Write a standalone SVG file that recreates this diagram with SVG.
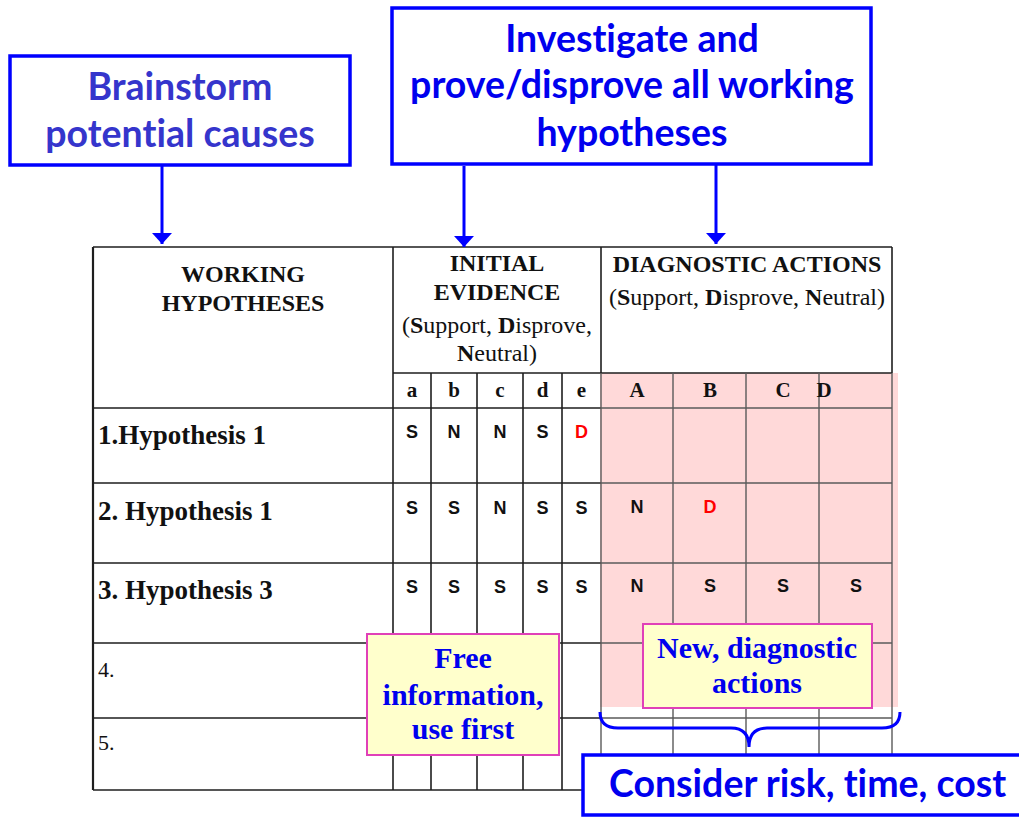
<svg xmlns="http://www.w3.org/2000/svg" width="1019" height="817" viewBox="0 0 1019 817">
  <defs>
    <marker id="arrowhead" viewBox="0 0 11 20" refX="11" refY="10" markerWidth="11" markerHeight="20" markerUnits="userSpaceOnUse" orient="auto">
      <path d="M0,0 L11,10 L0,20 Z" fill="#0000ff"/>
    </marker>
    <style>
      .callout { fill: #ffffff; stroke: #0000ff; stroke-width: 3.5; }
      .sans { font-family: Lato, "Open Sans", sans-serif; font-weight: bold; font-size: 37.5px; font-variant-ligatures: none; }
      .note { fill: #ffffcc; stroke: #e040b8; stroke-width: 2; }
      .note-text { font-family: "Liberation Serif", serif; font-weight: bold; font-size: 30px; fill: #0000ee; text-anchor: middle; }
      .grid { stroke: #1e1e1e; stroke-width: 1.6; fill: none; }
      .grid-soft { stroke: #5a5a5a; stroke-width: 1.4; fill: none; }
      .hdr { font-family: "Liberation Serif", serif; font-size: 24px; fill: #111; text-anchor: middle; }
      .sub { font-family: "Liberation Serif", serif; font-weight: bold; font-size: 21px; fill: #111; text-anchor: middle; }
      .row { font-family: "Liberation Serif", serif; font-weight: bold; font-size: 27px; fill: #111; }
      .row-plain { font-family: "Liberation Serif", serif; font-size: 22px; fill: #111; }
      .cell { font-family: "Liberation Sans", Arial, sans-serif; font-weight: bold; font-size: 18px; fill: #111; text-anchor: middle; }
      .cell.red { fill: #ff0000; }
      .conn { stroke: #0000ff; stroke-width: 3; fill: none; }
    </style>
  </defs>

  <rect x="0" y="0" width="1019" height="817" fill="#ffffff"/>

  <!-- shaded block behind the diagnostic action cells -->
  <rect id="diagnostic-shade" x="600" y="373" width="298" height="334" fill="#ffd9d9"/>

  <!-- hypothesis table -->
  <g id="table">
    <g class="grid">
      <line x1="93" y1="247" x2="892" y2="247"/>
      <line x1="393" y1="373" x2="601" y2="373"/>
      <line x1="601" y1="373" x2="892" y2="373"/>
      <line x1="93" y1="408" x2="601" y2="408"/>
      <line x1="93" y1="483" x2="601" y2="483"/>
      <line x1="93" y1="563" x2="601" y2="563"/>
      <line x1="93" y1="643" x2="601" y2="643"/>
      <line x1="93" y1="718" x2="601" y2="718"/>
      <line x1="93" y1="790" x2="892" y2="790"/>
      <line x1="93" y1="247" x2="93" y2="790" stroke-width="2.2"/>
      <line x1="393" y1="247" x2="393" y2="790"/>
      <line x1="601" y1="247" x2="601" y2="373"/>
      <line x1="892" y1="247" x2="892" y2="373"/>
      <line x1="431" y1="373" x2="431" y2="790"/>
      <line x1="477" y1="373" x2="477" y2="790"/>
      <line x1="523" y1="373" x2="523" y2="790"/>
      <line x1="562" y1="373" x2="562" y2="790"/>
    </g>
    <g class="grid-soft">
      <line x1="601" y1="408" x2="892" y2="408"/>
      <line x1="601" y1="483" x2="892" y2="483"/>
      <line x1="601" y1="563" x2="892" y2="563"/>
      <line x1="601" y1="643" x2="892" y2="643"/>
      <line x1="601" y1="718" x2="892" y2="718"/>
      <line x1="601" y1="373" x2="601" y2="790"/>
      <line x1="673" y1="373" x2="673" y2="790"/>
      <line x1="746" y1="373" x2="746" y2="790"/>
      <line x1="819" y1="373" x2="819" y2="790"/>
      <line x1="892" y1="373" x2="892" y2="790"/>
    </g>

    <!-- column headers -->
    <text class="hdr" font-weight="bold" font-size="24.5" x="243" y="282">WORKING</text>
    <text class="hdr" font-weight="bold" font-size="24.5" x="243" y="311">HYPOTHESES</text>
    <text class="hdr" font-weight="bold" x="497" y="271">INITIAL</text>
    <text class="hdr" font-weight="bold" x="497" y="300">EVIDENCE</text>
    <text class="hdr" x="497" y="333">(<tspan font-weight="bold">S</tspan>upport, <tspan font-weight="bold">D</tspan>isprove,</text>
    <text class="hdr" x="497" y="361"><tspan font-weight="bold">N</tspan>eutral)</text>
    <text class="hdr" font-weight="bold" x="747" y="272">DIAGNOSTIC ACTIONS</text>
    <text class="hdr" x="747" y="305">(<tspan font-weight="bold">S</tspan>upport, <tspan font-weight="bold">D</tspan>isprove, <tspan font-weight="bold">N</tspan>eutral)</text>

    <text class="sub" x="412" y="397">a</text>
    <text class="sub" x="454" y="397">b</text>
    <text class="sub" x="500" y="397">c</text>
    <text class="sub" x="542.5" y="397">d</text>
    <text class="sub" x="581.5" y="397">e</text>
    <text class="sub" x="637" y="397">A</text>
    <text class="sub" x="710" y="397">B</text>
    <text class="sub" x="783" y="397">C</text>
    <text class="sub" x="824" y="397" text-anchor="start">D</text>

    <!-- row labels -->
    <text class="row" x="98" y="444">1.Hypothesis 1</text>
    <text class="row" x="98" y="520">2. Hypothesis 1</text>
    <text class="row" x="98" y="599">3. Hypothesis 3</text>
    <text class="row-plain" x="98" y="677">4.</text>
    <text class="row-plain" x="98" y="750">5.</text>

    <!-- evidence entries -->
    <text class="cell" x="412" y="438">S</text>
    <text class="cell" x="454" y="438">N</text>
    <text class="cell" x="500" y="438">N</text>
    <text class="cell" x="542.5" y="438">S</text>
    <text class="cell red" x="581.5" y="438">D</text>

    <text class="cell" x="412" y="514">S</text>
    <text class="cell" x="454" y="514">S</text>
    <text class="cell" x="500" y="514">N</text>
    <text class="cell" x="542.5" y="514">S</text>
    <text class="cell" x="581.5" y="514">S</text>
    <text class="cell" x="637" y="513">N</text>
    <text class="cell red" x="710" y="513">D</text>

    <text class="cell" x="412" y="593">S</text>
    <text class="cell" x="454" y="593">S</text>
    <text class="cell" x="500" y="593">S</text>
    <text class="cell" x="542.5" y="593">S</text>
    <text class="cell" x="581.5" y="593">S</text>
    <text class="cell" x="637" y="592">N</text>
    <text class="cell" x="710" y="592">S</text>
    <text class="cell" x="783" y="592">S</text>
    <text class="cell" x="856" y="592">S</text>
  </g>

  <!-- connectors -->
  <g id="connectors">
    <line class="conn" x1="162" y1="166" x2="162" y2="244" marker-end="url(#arrowhead)"/>
    <line class="conn" x1="464" y1="166" x2="464" y2="247" marker-end="url(#arrowhead)"/>
    <line class="conn" x1="716" y1="165" x2="716" y2="244" marker-end="url(#arrowhead)"/>
    <path class="conn" d="M600,712 Q600,728 618,728 L731,728 Q749,728 749,747 Q749,728 767,728 L882,728 Q900,728 900,712"/>
  </g>

  <g id="brainstorm">
    <rect class="callout" x="10" y="56" width="340" height="109"/>
    <text class="sans" x="180" y="100" fill="#3535cc" text-anchor="middle">Brainstorm</text>
    <text class="sans" x="180" y="147" fill="#3535cc" text-anchor="middle">potential causes</text>
  </g>

  <g id="investigate">
    <rect class="callout" x="392" y="8" width="479" height="156"/>
    <text class="sans" x="632" y="52" fill="#0000ee" text-anchor="middle">Investigate and</text>
    <text class="sans" x="632" y="98" fill="#0000ee" text-anchor="middle">prove/disprove all working</text>
    <text class="sans" x="632" y="146" fill="#0000ee" text-anchor="middle">hypotheses</text>
  </g>

  <g id="free-information">
    <rect class="note" x="367" y="634" width="192" height="121"/>
    <text class="note-text" x="463" y="668">Free</text>
    <text class="note-text" x="463" y="705">information,</text>
    <text class="note-text" x="463" y="739">use first</text>
  </g>

  <g id="new-diagnostic">
    <rect class="note" x="643" y="624" width="229" height="84"/>
    <text class="note-text" x="757" y="658">New, diagnostic</text>
    <text class="note-text" x="757" y="693">actions</text>
  </g>

  <g id="consider">
    <rect class="callout" x="583" y="755" width="460" height="60"/>
    <text class="sans" x="609" y="797" fill="#0000ee">Consider risk, time, cost</text>
  </g>
</svg>
